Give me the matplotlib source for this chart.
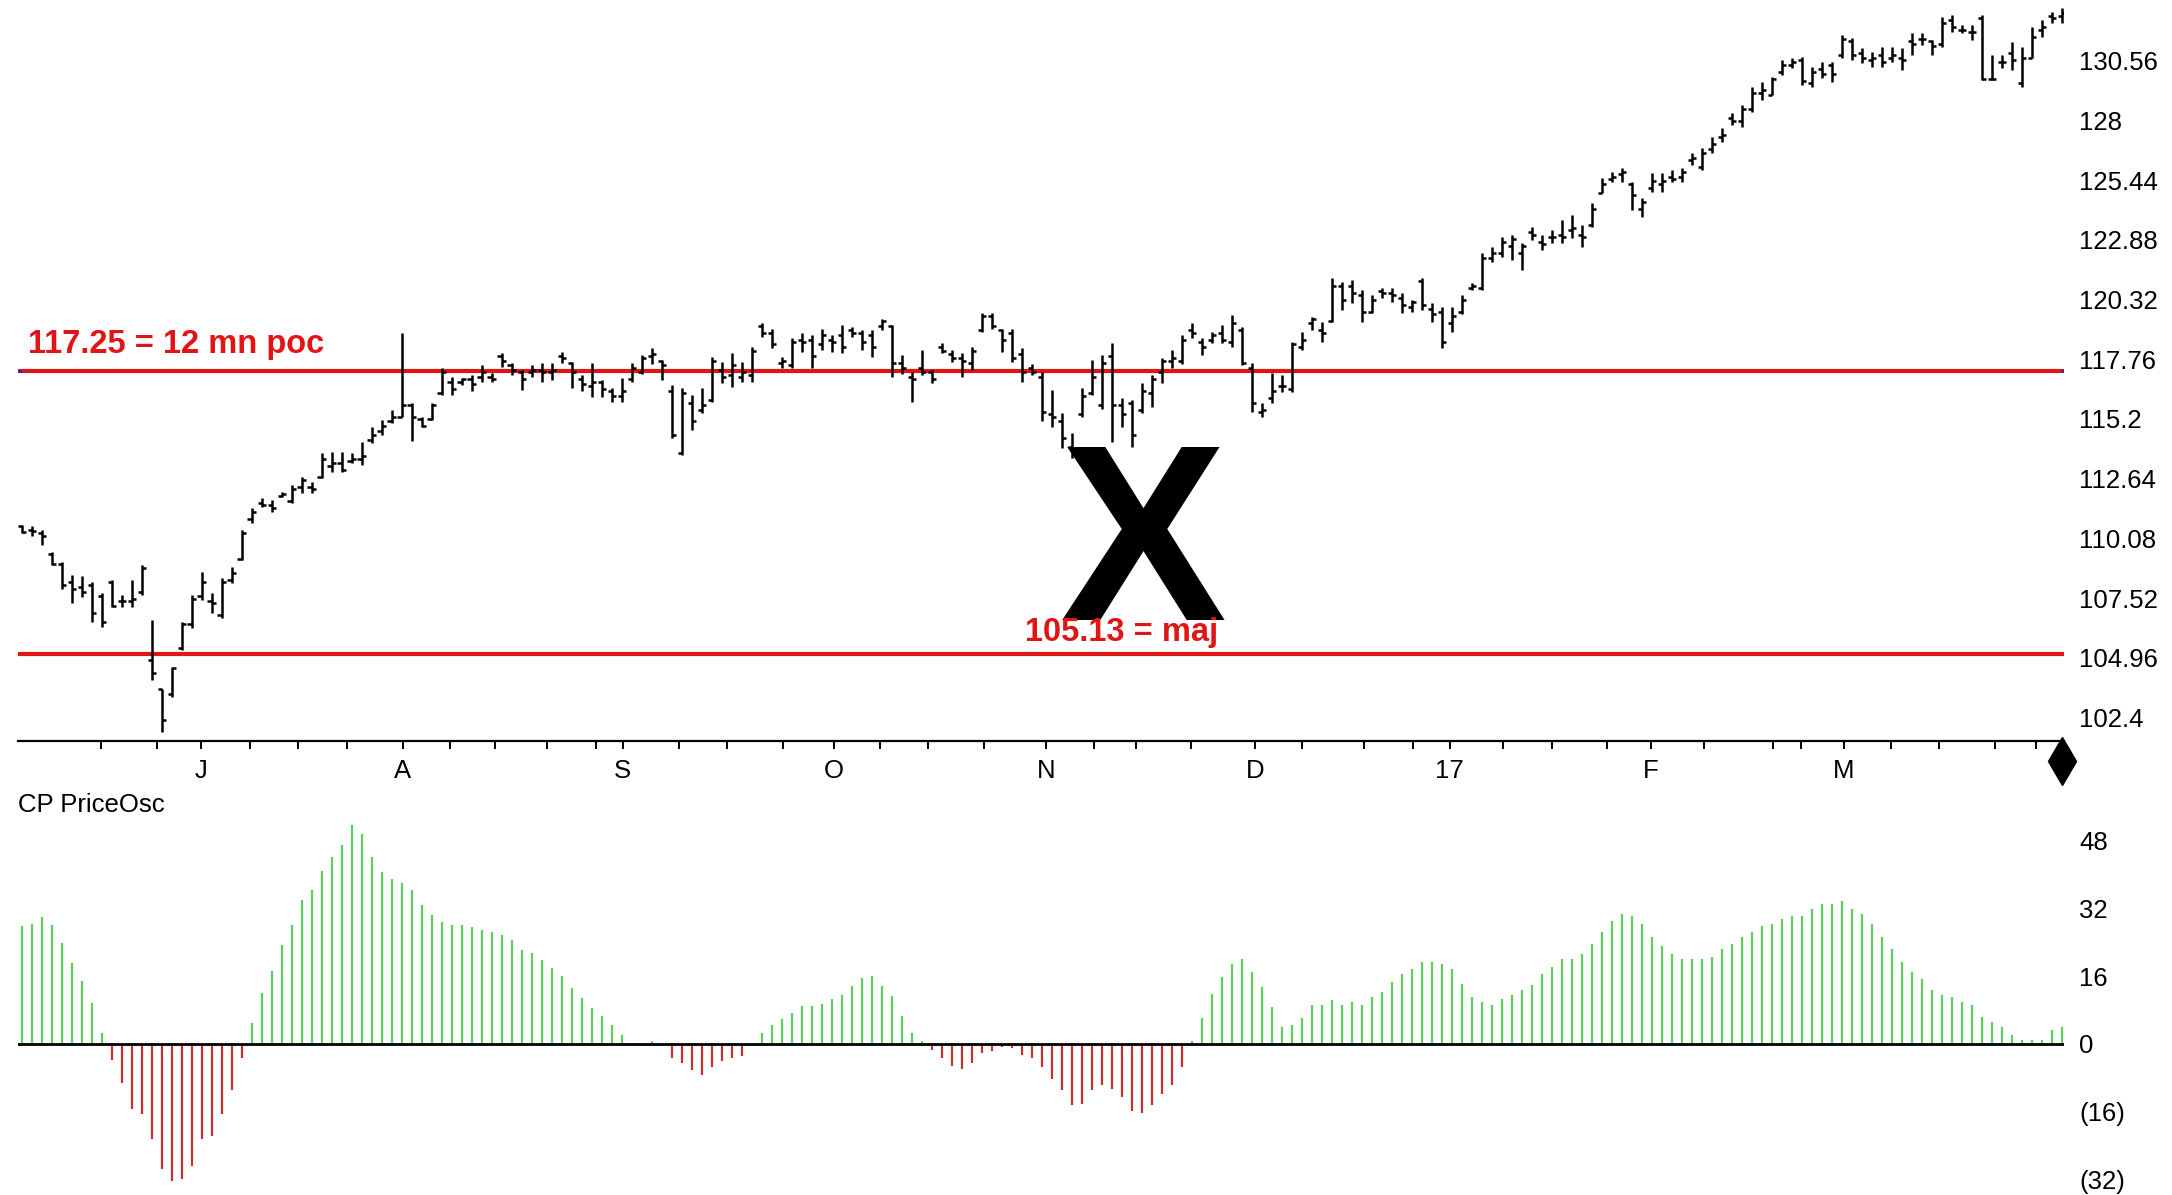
import numpy as np
import matplotlib
matplotlib.use("Agg")
import matplotlib.pyplot as plt
from matplotlib.transforms import blended_transform_factory

plt.rcParams['font.family'] = ['Liberation Sans', 'DejaVu Sans']

# ---------------- data ----------------
high = [110.65, 110.6, 110.43, 109.5, 109.07, 108.5, 108.46, 108.22, 107.72, 108.29,
        107.65, 108.29, 108.93, 106.57, 103.64, 104.57, 106.5, 107.65, 108.65, 107.72,
        108.37, 108.87, 110.44, 111.37, 111.8, 111.73, 112.09, 112.37, 112.73, 112.51,
        113.73, 113.8, 113.8, 113.73, 114.23, 114.87, 115.16, 115.59, 118.88, 115.88,
        115.3, 115.88, 117.38, 117.02, 116.95, 117.09, 117.52, 117.16, 118.02, 117.59,
        117.3, 117.52, 117.59, 117.59, 118.09, 117.66, 117.09, 117.59, 116.88, 116.52,
        116.95, 117.59, 117.94, 118.23, 117.73, 116.65, 116.51, 116.22, 116.51, 117.87,
        117.65, 118.01, 117.65, 118.3, 119.3, 119.08, 117.87, 118.66, 118.87, 118.8,
        119.08, 118.8, 119.23, 119.16, 119.01, 119.01, 119.51, 119.23, 117.94, 117.23,
        118.16, 117.3, 118.44, 118.16, 118.01, 118.3, 119.73, 119.73, 119.08, 119.08,
        118.23, 117.58, 117.2, 116.44, 115.44, 114.58, 116.51, 117.73, 117.94, 118.44,
        116.08, 116.01, 116.73, 117.08, 117.8, 118.16, 118.8, 119.3, 118.66, 118.94,
        119.23, 119.66, 119.16, 117.59, 115.87, 117.16, 117.09, 118.52, 118.95, 119.59,
        119.37, 121.23, 121.09, 121.16, 120.73, 120.52, 120.8, 120.8, 120.59, 120.3,
        121.23, 120.16, 120.02, 120.0, 120.52, 121.02, 122.31, 122.59, 123.02, 123.09,
        122.74, 123.45, 123.09, 123.31, 123.74, 123.95, 123.52, 124.45, 125.52, 125.81,
        125.95, 125.38, 124.67, 125.74, 125.74, 125.88, 125.95, 126.59, 126.81, 127.31,
        127.67, 128.31, 128.67, 129.45, 129.67, 129.88, 130.6, 130.67, 130.74, 130.31,
        130.53, 130.53, 131.67, 131.53, 131.1, 130.95, 131.17, 131.17, 131.1, 131.74,
        131.74, 131.45, 132.46, 132.53, 132.1, 132.1, 132.53, 130.81, 130.81, 131.38,
        131.17, 132.03, 132.31, 132.67, 132.81]

low = [110.29, 110.2, 109.79, 108.93, 107.93, 107.29, 107.57, 106.5, 106.29, 107.14,
       107.14, 107.14, 107.65, 104.0, 101.78, 103.28, 105.29, 106.22, 107.43, 106.86,
       106.65, 108.15, 109.15, 110.73, 111.44, 111.23, 111.87, 111.59, 112.01, 112.01,
       112.66, 112.94, 112.94, 113.3, 113.23, 114.16, 114.52, 115.02, 115.3, 114.25,
       114.87, 115.16, 116.23, 116.23, 116.66, 116.38, 116.8, 116.8, 117.45, 117.09,
       116.45, 117.02, 116.8, 116.88, 117.59, 116.52, 116.38, 116.16, 116.16, 115.95,
       115.95, 116.8, 117.15, 117.58, 116.87, 114.37, 113.65, 114.72, 115.44, 115.94,
       116.73, 116.58, 116.8, 116.8, 118.73, 118.23, 117.37, 117.37, 118.08, 117.37,
       118.16, 118.08, 118.01, 118.73, 118.16, 117.87, 119.01, 117.01, 117.15, 115.94,
       117.08, 116.73, 118.01, 117.65, 117.01, 117.3, 118.94, 119.08, 118.08, 117.65,
       116.8, 117.08, 115.1, 114.87, 113.94, 113.51, 115.3, 116.22, 115.65, 114.22,
       114.87, 114.01, 115.44, 115.72, 116.73, 117.37, 117.58, 118.66, 117.94, 118.44,
       118.44, 118.3, 117.51, 115.51, 115.3, 115.87, 116.37, 116.37, 118.16, 119.02,
       118.52, 119.37, 119.87, 120.16, 119.37, 119.73, 120.37, 120.23, 119.73, 119.8,
       119.87, 119.37, 118.23, 118.95, 119.7, 120.73, 120.73, 121.95, 122.16, 122.02,
       121.59, 122.88, 122.45, 122.74, 122.74, 122.95, 122.59, 123.45, 124.88, 125.38,
       125.38, 124.17, 123.88, 124.95, 124.95, 125.38, 125.38, 126.09, 125.88, 126.59,
       127.09, 127.81, 127.74, 128.38, 128.88, 129.1, 129.95, 130.24, 129.53, 129.45,
       129.81, 129.67, 130.67, 130.6, 130.46, 130.31, 130.31, 130.52, 130.17, 130.81,
       131.24, 130.81, 131.17, 131.81, 131.74, 131.45, 129.74, 129.74, 130.24, 130.17,
       129.45, 130.67, 131.6, 132.17, 132.17]

open_ = [110.6, 110.45, 110.3, 109.4, 109.0, 108.2, 108.0, 108.1, 107.6, 108.2,
         107.4, 107.4, 107.8, 104.85, 103.6, 103.4, 105.4, 106.4, 107.6, 107.4,
         106.8, 108.3, 109.2, 110.9, 111.6, 111.5, 111.9, 111.7, 112.3, 112.3,
         112.7, 113.2, 113.3, 113.4, 113.5, 114.3, 114.7, 115.1, 115.3, 115.8,
         115.2, 115.2, 116.3, 116.8, 116.8, 116.9, 117.0, 117.0, 117.9, 117.5,
         117.2, 117.2, 117.3, 117.2, 117.9, 117.6, 116.9, 116.6, 116.8, 116.4,
         116.2, 116.9, 117.2, 117.9, 117.7, 116.4, 113.75, 115.9, 115.6, 116.0,
         117.3, 117.1, 117.0, 117.1, 119.2, 118.9, 117.6, 117.5, 118.6, 118.6,
         118.4, 118.6, 118.8, 119.0, 118.9, 118.8, 119.2, 119.2, 117.6, 117.0,
         117.4, 117.2, 118.3, 118.0, 117.8, 117.6, 119.0, 119.6, 119.0, 118.9,
         118.0, 117.4, 117.0, 115.4, 115.1, 114.0, 115.4, 116.3, 115.8, 117.9,
         115.8, 115.9, 115.6, 116.3, 117.2, 117.7, 117.7, 119.0, 118.5, 118.6,
         118.9, 118.5, 119.0, 117.4, 115.5, 116.1, 116.6, 116.5, 118.3, 119.3,
         119.0, 119.4, 120.9, 120.9, 120.5, 119.8, 120.7, 120.6, 120.4, 120.0,
         121.1, 119.9, 119.8, 119.3, 119.8, 120.8, 120.8, 122.1, 122.3, 122.6,
         122.3, 123.2, 122.8, 123.0, 123.1, 123.3, 123.1, 123.5, 124.9, 125.5,
         125.7, 125.3, 124.2, 125.1, 125.3, 125.6, 125.6, 126.3, 126.0, 126.8,
         127.3, 128.1, 128.0, 128.5, 129.2, 129.1, 130.1, 130.4, 130.6, 129.6,
         130.2, 130.4, 130.8, 131.4, 130.9, 130.6, 130.8, 130.7, 130.7, 131.4,
         131.5, 131.4, 131.3, 132.3, 131.9, 131.8, 132.4, 129.8, 130.5, 130.9,
         129.6, 130.7, 131.9, 132.5, 132.5]

close = [110.35, 110.4, 110.2, 109.0, 108.1, 107.9, 107.8, 106.9, 106.5, 107.2,
         107.4, 107.5, 108.8, 104.3, 102.3, 104.5, 106.4, 107.5, 108.2, 107.3,
         108.2, 108.6, 110.3, 111.2, 111.5, 111.4, 112.0, 112.2, 112.6, 112.2,
         113.5, 113.3, 113.0, 113.5, 113.6, 114.5, 114.9, 115.3, 115.8, 115.3,
         114.9, 115.8, 117.2, 116.5, 116.9, 116.7, 117.2, 116.9, 117.7, 117.3,
         116.9, 117.3, 117.2, 117.3, 117.8, 117.2, 116.7, 116.8, 116.5, 116.2,
         116.4, 117.4, 117.8, 118.0, 117.5, 114.5, 116.3, 115.1, 115.8, 117.7,
         117.0, 117.5, 117.2, 118.1, 118.9, 118.4, 117.7, 118.5, 118.5, 117.9,
         118.8, 118.5, 118.3, 118.9, 118.5, 118.3, 119.4, 117.6, 117.4, 116.9,
         117.2, 116.9, 118.1, 117.8, 117.7, 118.1, 119.6, 119.2, 118.6, 117.8,
         117.2, 117.2, 115.5, 115.3, 114.4, 113.7, 116.2, 117.0, 117.6, 115.8,
         115.4, 114.5, 116.4, 116.9, 117.7, 117.8, 118.6, 118.9, 118.3, 118.8,
         118.6, 119.3, 117.6, 115.9, 115.6, 116.4, 116.6, 118.4, 118.6, 119.5,
         118.9, 120.9, 120.3, 120.6, 119.8, 120.3, 120.6, 120.5, 120.1, 120.2,
         120.1, 119.7, 118.5, 119.6, 120.3, 120.9, 122.1, 122.3, 122.8, 122.9,
         122.6, 123.1, 122.7, 123.0, 123.0, 123.4, 123.0, 124.2, 125.3, 125.6,
         125.8, 124.8, 124.5, 125.4, 125.4, 125.5, 125.8, 126.4, 126.6, 127.0,
         127.4, 128.0, 128.5, 129.2, 129.3, 129.8, 130.4, 130.5, 129.7, 130.1,
         130.0, 130.0, 131.5, 130.8, 130.7, 130.7, 130.5, 130.8, 130.6, 131.3,
         131.5, 131.2, 132.2, 132.0, 131.9, 131.8, 129.8, 129.8, 130.5, 130.6,
         130.7, 131.6, 132.0, 132.4, 132.6]

osc = [27.9, 28.3, 29.9, 28.0, 23.9, 19.2, 14.8, 9.7, 2.5, -3.8,
       -9.3, -15.3, -16.5, -22.4, -29.5, -32.3, -31.9, -28.8, -22.4, -21.6,
       -16.5, -10.9, -3.4, 4.9, 12.0, 17.3, 23.3, 28.0, 34.0, 36.4,
       40.7, 44.1, 47.0, 51.6, 49.4, 44.1, 40.6, 38.8, 37.9, 36.2,
       32.8, 30.4, 28.7, 28.0, 28.0, 27.6, 26.9, 26.3, 25.7, 24.5,
       22.1, 21.5, 19.7, 18.0, 16.0, 13.2, 10.9, 8.5, 6.7, 4.5,
       2.1, 0.2, 0.0, 0.7, 0.0, -3.4, -4.4, -6.2, -7.4, -5.4,
       -4.0, -3.4, -2.8, 0.0, 2.5, 4.5, 5.9, 7.3, 9.0, 9.0,
       9.4, 10.7, 11.5, 13.6, 15.6, 16.0, 13.6, 11.2, 6.5, 2.5,
       0.6, -1.4, -3.4, -5.1, -5.8, -4.6, -2.2, -1.7, -0.8, -1.0,
       -2.6, -3.4, -5.4, -8.2, -10.9, -14.5, -14.1, -10.8, -9.7, -10.7,
       -12.5, -15.7, -16.2, -14.3, -11.9, -9.7, -5.5, 0.8, 6.2, 11.7,
       15.8, 18.9, 20.0, 17.0, 13.5, 8.6, 4.0, 4.5, 6.2, 9.3,
       9.3, 10.3, 9.3, 9.9, 9.3, 11.1, 12.3, 14.7, 16.4, 17.6,
       19.4, 19.4, 18.9, 17.6, 14.1, 11.1, 9.9, 9.3, 10.5, 11.6,
       12.8, 14.0, 16.4, 18.2, 20.0, 20.0, 21.2, 23.6, 26.5, 28.9,
       30.7, 30.1, 28.3, 25.3, 23.0, 21.1, 20.0, 20.0, 20.0, 20.6,
       22.3, 23.5, 25.3, 26.5, 27.7, 28.3, 29.5, 30.1, 30.1, 31.8,
       33.0, 33.0, 33.7, 31.8, 30.7, 28.3, 25.3, 22.3, 19.4, 17.0,
       15.2, 12.8, 11.6, 11.1, 9.9, 9.3, 6.3, 5.1, 4.0, 2.1,
       1.0, 1.0, 1.0, 3.4, 4.0]

month_labels = ["J", "A", "S", "O", "N", "D", "17", "F", "M"]
month_bar = [17.9, 38.1, 60.1, 81.2, 102.4, 123.3, 142.8, 162.9, 182.2]
week_bar = [7.9, 13.5, 22.8, 27.6, 32.5, 42.8, 47.3, 52.5, 57.4, 65.7, 70.5, 76.1,
            85.8, 90.6, 96.2, 107.2, 111.4, 116.9, 128.0, 134.2, 139.1, 148.1,
            153.0, 158.5, 168.2, 175.1, 177.9, 186.9, 191.7, 197.3, 201.4]

price_ticks = [102.4, 104.96, 107.52, 110.08, 112.64, 115.2, 117.76, 120.32,
               122.88, 125.44, 128.0, 130.56]
price_tick_labels = ["102.4", "104.96", "107.52", "110.08", "112.64", "115.2",
                     "117.76", "120.32", "122.88", "125.44", "128", "130.56"]
osc_ticks = [48, 32, 16, 0, -16, -32]
osc_tick_labels = ["48", "32", "16", "0", "(16)", "(32)"]

poc_level = 117.25
maj_level = 105.13
poc_text = "117.25 = 12 mn poc"
maj_text = "105.13 = maj"
osc_title = "CP PriceOsc"

# ---------------- figure ----------------
W, H = 2172, 1195
fig = plt.figure(figsize=(W / 100, H / 100), dpi=100)
fig.patch.set_facecolor('white')

def fx(px):
    return px / W

def fy(py):
    return 1 - py / H

left_px, right_px = 18, 2064
ax1 = fig.add_axes([fx(left_px), fy(741), fx(right_px - left_px), 741 / H])
ax2 = fig.add_axes([fx(left_px), 0, fx(right_px - left_px), 406 / H])

n = len(close)
x = np.arange(n)
xlim = (-0.37, 204.23)

# ---- price panel ----
ax1.set_xlim(*xlim)
ax1.set_ylim(101.39, 133.17)
for s in ['top', 'left', 'right']:
    ax1.spines[s].set_visible(False)
ax1.spines['bottom'].set_linewidth(1.6)

red = '#e01515'
ax1.axhline(poc_level, color=red, lw=3.0, zorder=2)
ax1.axhline(maj_level, color=red, lw=3.0, zorder=2)
# small blue handles at the ends of the poc line
ax1.hlines([poc_level, poc_level], [xlim[0], xlim[1] - 0.35],
           [xlim[0] + 0.35, xlim[1]], color='#2030c0', lw=2.0, zorder=2.5)

bar_lw = 1.8
tick_w = 0.42
ax1.vlines(x, low, high, color='black', lw=bar_lw, zorder=3)
ax1.hlines(open_, x - tick_w, x, color='black', lw=bar_lw, zorder=3)
ax1.hlines(close, x, x + tick_w, color='black', lw=bar_lw, zorder=3)

ax1.yaxis.tick_right()
ax1.set_yticks(price_ticks)
ax1.set_yticklabels(price_tick_labels)
ax1.tick_params(axis='y', length=0, pad=11, labelsize=18.5, colors='black')

ax1.set_xticks(month_bar)
ax1.set_xticklabels(month_labels)
ax1.set_xticks(week_bar, minor=True)
ax1.tick_params(axis='x', which='major', direction='out', length=6, width=1.4,
                pad=7, labelsize=18.5)
ax1.tick_params(axis='x', which='minor', direction='out', length=6, width=1.4)

# current-bar diamond marker under axis
trans = blended_transform_factory(ax1.transData, ax1.transAxes)
ax1.plot([n - 1], [-0.027], marker='d', markersize=24, color='black',
         transform=trans, clip_on=False)

# annotations
ax1.text(fx(28), fy(353), poc_text, transform=fig.transFigure, color=red,
         fontsize=23.5, fontweight='bold', ha='left', va='baseline')
ax1.text(fx(1143), fy(620), "X", transform=fig.transFigure, color='black',
         fontsize=180, fontweight='bold', ha='center', va='baseline', zorder=4)
ax1.text(fx(1122), fy(641), maj_text, transform=fig.transFigure, color=red,
         fontsize=23.5, fontweight='bold', ha='center', va='baseline', zorder=5)

# ---- oscillator panel ----
ax2.set_xlim(*xlim)
ax2.set_ylim(-35.6, 60.1)
for s in ax2.spines.values():
    s.set_visible(False)
osc_arr = np.array(osc)
colors = ['#5ccf5c' if v >= 0 else '#c93030' for v in osc_arr]
ax2.vlines(x, 0, osc_arr, colors=colors, lw=1.6, zorder=2)
ax2.axhline(0, color='black', lw=2.0, zorder=3)
ax2.set_xticks([])
ax2.yaxis.tick_right()
ax2.set_yticks(osc_ticks)
ax2.set_yticklabels(osc_tick_labels)
ax2.tick_params(axis='y', length=0, pad=11, labelsize=18.5)

fig.text(fx(18), fy(805), osc_title, fontsize=18.5, ha='left', va='center')

fig.savefig('out.png', dpi=100, facecolor='white')
